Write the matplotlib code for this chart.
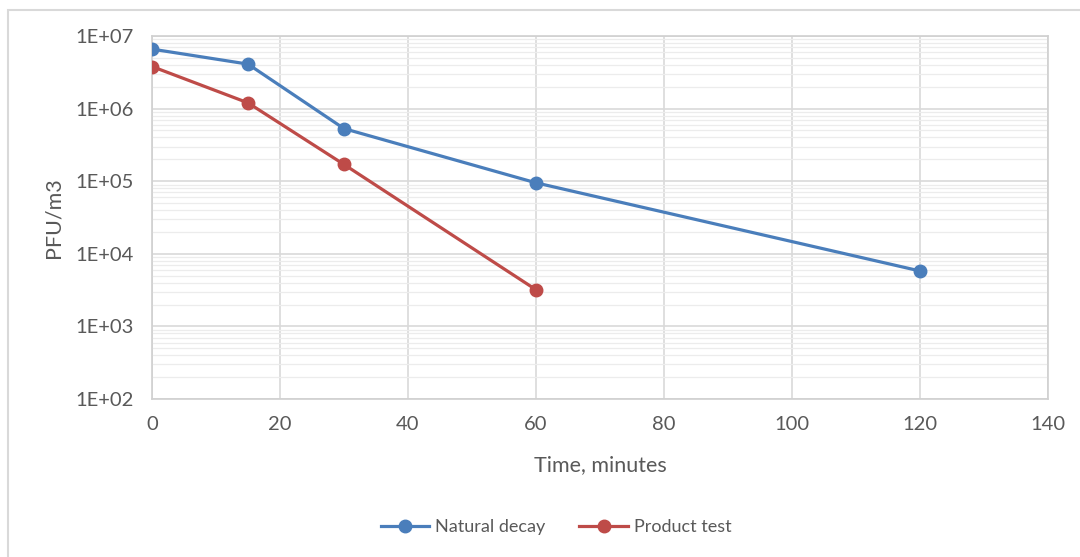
import matplotlib
matplotlib.use("Agg")
import matplotlib.pyplot as plt
from matplotlib.ticker import FixedLocator, LogLocator, NullFormatter
from matplotlib.patches import Rectangle

time_natural = [0, 15, 30, 60, 120]
natural_decay = [6.6e6, 4.1e6, 5.3e5, 9.5e4, 5.8e3]
time_product = [0, 15, 30, 60]
product_test = [3.8e6, 1.2e6, 1.7e5, 3.2e3]
x_ticks = [0, 20, 40, 60, 80, 100, 120, 140]
y_ticks = [1e2, 1e3, 1e4, 1e5, 1e6, 1e7]
y_labels = ["1E+02", "1E+03", "1E+04", "1E+05", "1E+06", "1E+07"]

plt.rcParams['font.family'] = ['Lato', 'DejaVu Sans']
text_color = '#595959'

fig = plt.figure(figsize=(10.8, 5.57), dpi=100)
fig.patches.append(Rectangle((8/1080, -0.1), 1.2, 0.1 + 1 - 10/557,
                             transform=fig.transFigure, fill=False,
                             edgecolor='#d9d9d9', linewidth=1.5))
ax = fig.add_axes([152/1080, 1 - 399/557, 896/1080, 363/557])

ax.plot(time_natural, natural_decay, color='#4a7ebb', linewidth=2.3,
        marker='o', markersize=9, label='Natural decay', zorder=3)
ax.plot(time_product, product_test, color='#be4b48', linewidth=2.3,
        marker='o', markersize=9, label='Product test', zorder=3)

ax.set_yscale('log')
ax.set_xlim(0, 140)
ax.set_ylim(1e2, 1e7)
ax.xaxis.set_major_locator(FixedLocator(x_ticks))
ax.set_yticks(y_ticks)
ax.set_yticklabels(y_labels)
ax.yaxis.set_minor_locator(LogLocator(base=10, subs=range(2, 10)))
ax.yaxis.set_minor_formatter(NullFormatter())

ax.grid(True, which='major', color='#d9d9d9', linewidth=1.2)
ax.grid(True, which='minor', axis='y', color='#ececec', linewidth=0.9)
ax.set_axisbelow(True)
for s in ax.spines.values():
    s.set_color('#d0d0d0')
    s.set_linewidth(1.2)
ax.tick_params(which='both', length=0, colors=text_color, labelsize=14.5)
ax.tick_params(axis='x', pad=12)
ax.tick_params(axis='y', pad=13)

ax.set_xlabel('Time, minutes', fontsize=15.5, color=text_color, labelpad=16)
ax.set_ylabel('PFU/m3', fontsize=15.5, color=text_color, labelpad=9)

leg = fig.legend(loc='center', bbox_to_anchor=(556/1080, 1 - 527/557), ncol=2,
                 frameon=False, fontsize=13, handlelength=2.7, columnspacing=1.9,
                 handletextpad=0.3)
for t in leg.get_texts():
    t.set_color(text_color)

fig.savefig('out.png', dpi=100, facecolor='white')
